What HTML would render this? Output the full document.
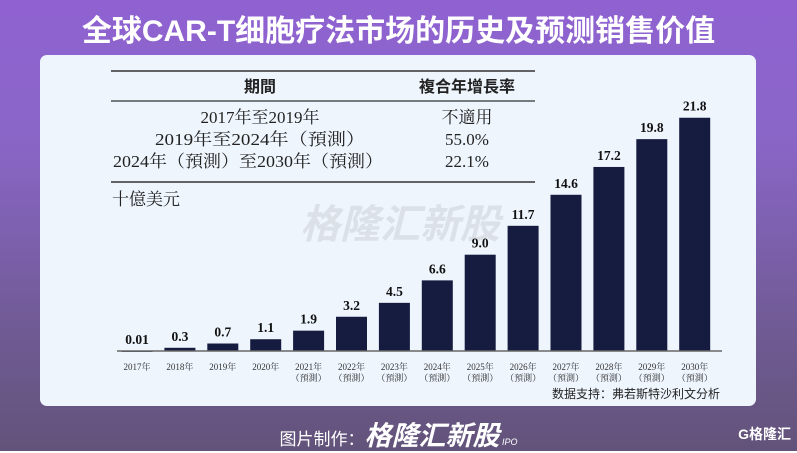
<!DOCTYPE html>
<html><head><meta charset="utf-8"><style>
body{margin:0;width:797px;height:451px;overflow:hidden;font-family:"Liberation Sans","Noto Sans CJK SC",sans-serif;}
#bg{position:absolute;left:0;top:0;width:797px;height:451px;background:linear-gradient(180deg,#8f62d1 0%,#8a66c8 30%,#6f5a92 75%,#62537a 100%);}
#title{position:absolute;left:0;top:6px;width:797px;text-align:center;color:#fff;font-weight:bold;font-size:30px;letter-spacing:0px;}
#panel{position:absolute;left:40px;top:55px;width:716px;height:351px;background:#eef5fd;border-radius:7px;}
#footer{position:absolute;left:0;top:414px;width:797px;text-align:center;color:#fff;font-size:17px;}
</style></head><body>
<div id="bg"></div>
<div id="title">全球CAR-T细胞疗法市场的历史及预测销售价值</div>
<div id="panel"></div>
<svg width="797" height="451" style="position:absolute;left:0;top:0">
<g font-family="Liberation Serif,Noto Serif CJK SC,serif" fill="#222" font-size="17">
<line x1="111" y1="71" x2="535" y2="71" stroke="#333" stroke-width="1.5"/>
<line x1="111" y1="101" x2="535" y2="101" stroke="#333" stroke-width="1.2"/>
<line x1="111" y1="182" x2="535" y2="182" stroke="#333" stroke-width="1.5"/>
<text x="260" y="92" text-anchor="middle" font-weight="bold" font-size="16" font-family="Noto Sans CJK SC,sans-serif">期間</text>
<text x="467" y="92" text-anchor="middle" font-weight="bold" font-size="16" font-family="Noto Sans CJK SC,sans-serif">複合年增長率</text>
<text x="260" y="123" text-anchor="middle">2017年至2019年</text>
<text x="467" y="123" text-anchor="middle">不適用</text>
<text x="260" y="145" text-anchor="middle" textLength="210" lengthAdjust="spacingAndGlyphs">2019年至2024年（預測）</text>
<text x="467" y="145" text-anchor="middle">55.0%</text>
<text x="248" y="167" text-anchor="middle" textLength="270" lengthAdjust="spacingAndGlyphs">2024年（預測）至2030年（預測）</text>
<text x="467" y="167" text-anchor="middle">22.1%</text>
<text x="112" y="205">十億美元</text>
</g>
<text x="400" y="238" text-anchor="middle" font-size="40" font-weight="bold" font-style="italic" fill="#d8dde4" opacity="0.8">格隆汇新股</text>
<g id="bars"></g>
<line x1="117" y1="351" x2="722" y2="351" stroke="#666" stroke-width="1.5"/>
<text x="720" y="398" text-anchor="end" font-size="12" fill="#222">数据支持：弗若斯特沙利文分析</text>
</svg>
<div id="footer">图片制作：<b style="font-size:27px;font-style:italic">格隆汇新股</b><span style="font-size:9px;font-style:italic"> IPO</span></div>
<div style="position:absolute;right:6px;top:424px;color:#fff;font-size:14px;font-weight:bold">G格隆汇</div>
<script>
const years=["2017","2018","2019","2020","2021","2022","2023","2024","2025","2026","2027","2028","2029","2030"];
const values=[0.01,0.3,0.7,1.1,1.9,3.2,4.5,6.6,9.0,11.7,14.6,17.2,19.8,21.8];
const labels=["0.01","0.3","0.7","1.1","1.9","3.2","4.5","6.6","9.0","11.7","14.6","17.2","19.8","21.8"];
const forecast=[false,false,false,false,true,true,true,true,true,true,true,true,true,true];
const NS="http://www.w3.org/2000/svg";
const base=351,scale=10.7,x0=137,step=42.9,bw=31;
const xs=i=>x0+i*step, ys=v=>base-v*scale;
const g=document.getElementById('bars');
function mk(t,a){const e=document.createElementNS(NS,t);for(const k in a)e.setAttribute(k,a[k]);g.appendChild(e);return e;}
values.forEach((v,i)=>{
 const y=ys(v);
 const r=mk('rect',{x:xs(i)-bw/2,y:y,width:bw,height:Math.max(base-y,1),fill:'#151c3f'});
 
 
 const t=mk('text',{x:xs(i),y:y-7,'text-anchor':'middle','font-size':13.5,'font-weight':'bold',fill:'#111','font-family':'Liberation Serif,serif'});
 t.textContent=labels[i];
 
 
 const yl=mk('text',{x:xs(i),y:370,'text-anchor':'middle','font-size':9,fill:'#333','font-family':'Liberation Serif,Noto Serif CJK SC,serif'});
 yl.textContent=years[i]+'年';
 
 
 if(forecast[i]){
  const f=mk('text',{x:xs(i),y:381,'text-anchor':'middle','font-size':9,fill:'#333','font-family':'Noto Serif CJK SC,serif'});
  f.textContent='（預測）';
  
  
 }
});
</script>
</body></html>
